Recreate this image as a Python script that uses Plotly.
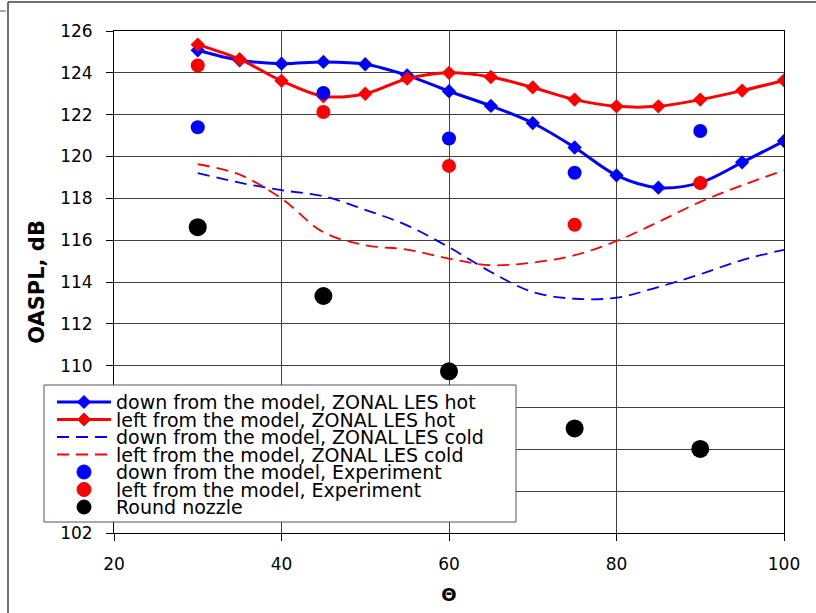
import plotly.graph_objects as go

# ---------------- data ----------------
theta_les = [30, 35, 40, 45, 50, 55, 60, 65, 70, 75, 80, 85, 90, 95, 100]
down_hot = [125.08, 124.6, 124.44, 124.52, 124.41, 123.88, 123.12, 122.42, 121.6, 120.43, 119.1, 118.51, 118.75, 119.72, 120.74]
left_hot = [125.35, 124.65, 123.62, 122.88, 123.0, 123.72, 124.0, 123.8, 123.3, 122.72, 122.4, 122.4, 122.72, 123.15, 123.64]
down_cold = [119.21, 118.75, 118.39, 118.1, 117.45, 116.71, 115.66, 114.48, 113.52, 113.2, 113.25, 113.76, 114.37, 115.05, 115.54]
left_cold = [119.63, 119.13, 117.99, 116.38, 115.76, 115.55, 115.12, 114.8, 114.93, 115.28, 115.96, 116.87, 117.83, 118.62, 119.34]

theta_exp = [30, 45, 60, 75, 90]
down_exp = [121.4, 123.04, 120.86, 119.22, 121.22]
left_exp = [124.35, 122.13, 119.55, 116.74, 118.73]
round_nozzle = [116.62, 113.33, 109.73, 107.0, 106.02]

names = [
    "down from the model, ZONAL LES hot",
    "left from the model, ZONAL LES hot",
    "down from the model, ZONAL LES cold",
    "left from the model, ZONAL LES cold",
    "down from the model, Experiment",
    "left from the model, Experiment",
    "Round nozzle",
]

BLUE = "#0000FF"
RED = "#FF0000"
BLACK = "#000000"
FONT = "DejaVu Sans"

fig = go.Figure()
fig.add_trace(go.Scatter(x=theta_les, y=down_hot, mode="lines+markers", name=names[0],
                         line=dict(color=BLUE, width=3, shape="spline", smoothing=1),
                         marker=dict(symbol="diamond", size=11, color=BLUE)))
fig.add_trace(go.Scatter(x=theta_les, y=left_hot, mode="lines+markers", name=names[1],
                         line=dict(color=RED, width=3, shape="spline", smoothing=1),
                         marker=dict(symbol="diamond", size=11, color=RED)))
fig.add_trace(go.Scatter(x=theta_les, y=down_cold, mode="lines", name=names[2],
                         line=dict(color=BLUE, width=1.8, dash="12px,7px", shape="spline", smoothing=1)))
fig.add_trace(go.Scatter(x=theta_les, y=left_cold, mode="lines", name=names[3],
                         line=dict(color=RED, width=1.8, dash="12px,7px", shape="spline", smoothing=1)))
fig.add_trace(go.Scatter(x=theta_exp, y=down_exp, mode="markers", name=names[4],
                         marker=dict(symbol="circle", size=14, color=BLUE)))
fig.add_trace(go.Scatter(x=theta_exp, y=left_exp, mode="markers", name=names[5],
                         marker=dict(symbol="circle", size=14, color=RED)))
fig.add_trace(go.Scatter(x=theta_exp, y=round_nozzle, mode="markers", name=names[6],
                         marker=dict(symbol="circle", size=18, color=BLACK)))

# ---------------- layout ----------------
L, R, T, B = 114, 784, 31, 533
W, H = 816, 613


def px(p):
    return (p - L) / (R - L)


def py(p):
    return (B - p) / (B - T)


GRID = "#404040"
fig.update_layout(
    width=W, height=H,
    margin=dict(l=L, r=W - R, t=T, b=H - B),
    paper_bgcolor="white", plot_bgcolor="white",
    showlegend=False,
    font=dict(family=FONT, size=17, color="black"),
)
fig.update_xaxes(range=[20, 100], dtick=20, tick0=20, showgrid=True, gridcolor=GRID, gridwidth=1,
                 showline=True, linecolor=BLACK, linewidth=1, mirror=True,
                 ticks="outside", ticklen=7, tickcolor=BLACK, zeroline=False,
                 tickfont=dict(family=FONT, size=17), ticklabelstandoff=9,
                 title=dict(text="<b>Θ</b>", font=dict(family=FONT, size=18), standoff=14))
fig.update_yaxes(range=[102, 126], dtick=2, tick0=102, showgrid=True, gridcolor=GRID, gridwidth=1,
                 showline=True, linecolor=BLACK, linewidth=1, mirror=True,
                 ticks="outside", ticklen=7, tickcolor=BLACK, zeroline=False,
                 tickfont=dict(family=FONT, size=17), ticklabelstandoff=10,
                 title=dict(text="<b>OASPL, dB</b>", font=dict(family=FONT, size=21), standoff=9))

shapes = []
# outer chart border (partially visible)
shapes.append(dict(type="line", xref="paper", yref="paper", x0=px(8), x1=px(830), y0=py(2), y1=py(2),
                   line=dict(color="#404040", width=1.5)))
shapes.append(dict(type="line", xref="paper", yref="paper", x0=px(8), x1=px(8), y0=py(2), y1=py(630),
                   line=dict(color="#404040", width=1.5)))
shapes.append(dict(type="line", xref="paper", yref="paper", x0=px(0), x1=px(6), y0=py(11), y1=py(11),
                   line=dict(color="#aaaaaa", width=2)))

# manual legend
shapes.append(dict(type="rect", xref="paper", yref="paper", x0=px(44), x1=px(516), y0=py(385), y1=py(522),
                   fillcolor="white", line=dict(color="#555555", width=1), layer="above"))
row_y = [402, 419.5, 437, 454.5, 472, 489.5, 507]
sym_x0, sym_x1, sym_c = 57, 111, 84
styles = [
    (BLUE, "solid", "diamond", 3), (RED, "solid", "diamond", 3),
    (BLUE, "dash", None, 1.8), (RED, "dash", None, 1.8),
    (BLUE, None, "circle", 0), (RED, None, "circle", 0), (BLACK, None, "circle", 0),
]
annotations = []
for (col, ls, mk, lw), yy, nm in zip(styles, row_y, names):
    if ls is not None:
        shapes.append(dict(type="line", xref="paper", yref="paper", x0=px(sym_x0), x1=px(sym_x1),
                           y0=py(yy), y1=py(yy), layer="above",
                           line=dict(color=col, width=lw, dash="solid" if ls == "solid" else "12px,7px")))
    if mk == "diamond":
        d = 6.5
        path = (f"M {px(sym_c)},{py(yy - d)} L {px(sym_c + d)},{py(yy)} "
                f"L {px(sym_c)},{py(yy + d)} L {px(sym_c - d)},{py(yy)} Z")
        shapes.append(dict(type="path", xref="paper", yref="paper", path=path, layer="above",
                           fillcolor=col, line=dict(color=col, width=1)))
    elif mk == "circle":
        r = 7
        shapes.append(dict(type="circle", xref="paper", yref="paper", x0=px(sym_c - r), x1=px(sym_c + r),
                           y0=py(yy - r), y1=py(yy + r), layer="above",
                           fillcolor=col, line=dict(color=col, width=1)))
    annotations.append(dict(xref="paper", yref="paper", x=px(114), y=py(yy), xanchor="left", yanchor="middle",
                            text=nm, showarrow=False, font=dict(family=FONT, size=19, color="black")))

fig.update_layout(shapes=shapes, annotations=annotations)
fig.write_html("out.html", config={"displayModeBar": False},
               post_script="document.body.style.margin='0px';document.body.style.padding='0px';")
